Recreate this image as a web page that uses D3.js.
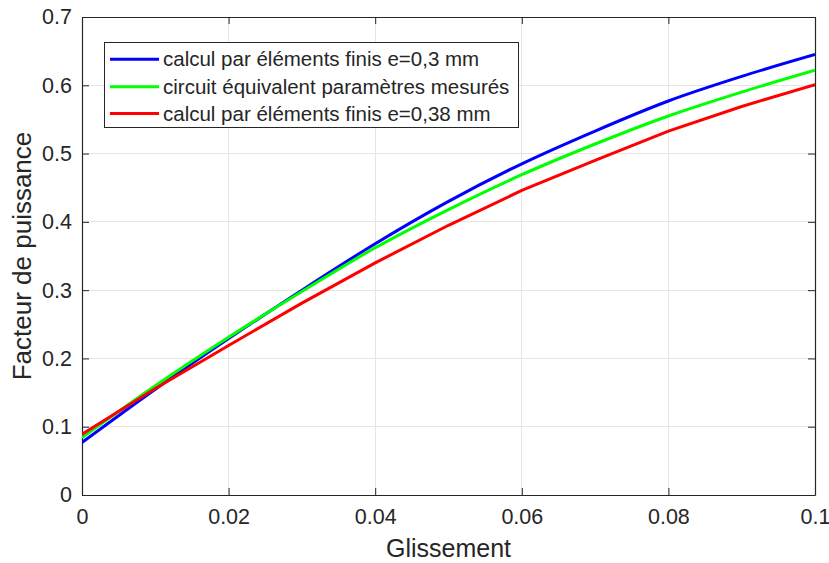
<!DOCTYPE html>
<html><head><meta charset="utf-8">
<script src="https://cdn.jsdelivr.net/npm/d3@7"></script>
<style>body{margin:0;background:#fff}svg{display:block}text{font-family:"Liberation Sans",Arial,sans-serif;fill:#262626}</style>
</head><body><svg id="c" width="829" height="563"></svg>
<script>
const glissement = [0,0.01,0.02,0.03,0.04,0.05,0.06,0.07,0.08,0.09,0.1];
const feE03 = [0.077,0.155,0.229,0.300,0.368,0.430,0.485,0.533,0.577,0.613,0.645];
const circuit = [0.084,0.160,0.231,0.298,0.362,0.418,0.469,0.514,0.555,0.590,0.622];
const feE038 = [0.089,0.156,0.219,0.281,0.340,0.395,0.446,0.490,0.533,0.569,0.601];
const seriesNames = ["calcul par éléments finis e=0,3 mm","circuit équivalent paramètres mesurés","calcul par éléments finis e=0,38 mm"];
const seriesColors = ["#0000ff","#00ff00","#ff0000"];
const xTicks = [0,0.02,0.04,0.06,0.08,0.1];
const xTickLabels = ["0","0.02","0.04","0.06","0.08","0.1"];
const yTicks = [0,0.1,0.2,0.3,0.4,0.5,0.6,0.7];
const yTickLabels = ["0","0.1","0.2","0.3","0.4","0.5","0.6","0.7"];

const svg = d3.select("#c");
const L=82,R=815,T=17,B=495;
const x = d3.scaleLinear().domain([0,0.1]).range([L,R]);
const y = d3.scaleLinear().domain([0,0.7]).range([B,T]);
const ink="#262626";

// grid
const g = svg.append("g");
g.selectAll(".gx").data(xTicks.slice(1,-1)).enter().append("line")
 .attr("x1",d=>x(d)).attr("x2",d=>x(d)).attr("y1",T).attr("y2",B)
 .attr("stroke","#e5e5e5").attr("stroke-width",1).attr("shape-rendering","crispEdges");
g.selectAll(".gy").data(yTicks.slice(1,-1)).enter().append("line")
 .attr("y1",d=>y(d)).attr("y2",d=>y(d)).attr("x1",L).attr("x2",R)
 .attr("stroke","#e5e5e5").attr("stroke-width",1).attr("shape-rendering","crispEdges");

// axes
const ax = (gen,tr,vals,labels,show,pad)=>{
  const a = svg.append("g").attr("transform",tr)
   .call(gen.tickValues(vals).tickSizeInner(-7).tickSizeOuter(0).tickPadding(show?pad:0).tickFormat((d,i)=>show?labels[i]:""));
  a.select(".domain").attr("stroke",ink).attr("stroke-width",1.2);
  a.selectAll(".tick line").attr("stroke",ink).attr("stroke-width",1);
  a.selectAll("text").style("font-size","21.5px").attr("fill",ink);
  return a;
};
ax(d3.axisBottom(x),`translate(0,${B})`,xTicks,xTickLabels,true,14);
ax(d3.axisTop(x),`translate(0,${T})`,xTicks,xTickLabels,false,0);
ax(d3.axisLeft(y),`translate(${L},0)`,yTicks,yTickLabels,true,10);
ax(d3.axisRight(y),`translate(${R},0)`,yTicks,yTickLabels,false,0);

// lines
const data = [feE03,circuit,feE038];
svg.append("clipPath").attr("id","cp").append("rect").attr("x",L).attr("y",T).attr("width",R-L).attr("height",B-T);
data.forEach((s,i)=>{
  const line = d3.line().x((d,j)=>x(glissement[j])).y(d=>y(d)).curve(i===2?d3.curveLinear:d3.curveMonotoneX);
  svg.append("path").datum(s).attr("d",line).attr("fill","none")
   .attr("stroke",seriesColors[i]).attr("stroke-width",3).attr("clip-path","url(#cp)");
});

// labels
svg.append("text").attr("x",(L+R)/2).attr("y",557).attr("text-anchor","middle").style("font-size","25px").text("Glissement");
svg.append("text").attr("transform",`translate(31,${(T+B)/2}) rotate(-90)`).attr("text-anchor","middle").style("font-size","26px").text("Facteur de puissance");

// legend
const lg = svg.append("g");
lg.append("rect").attr("x",104.5).attr("y",42.5).attr("width",414).attr("height",85)
 .attr("fill","#fff").attr("stroke",ink).attr("stroke-width",1);
const rows=[59.3,86.7,113.5];
seriesNames.forEach((n,i)=>{
  lg.append("line").attr("x1",110).attr("x2",159).attr("y1",rows[i]).attr("y2",rows[i])
   .attr("stroke",seriesColors[i]).attr("stroke-width",3);
  lg.append("text").attr("x",163).attr("y",rows[i]).attr("dy","0.35em").style("font-size","20.5px").text(n);
});
</script></body></html>
